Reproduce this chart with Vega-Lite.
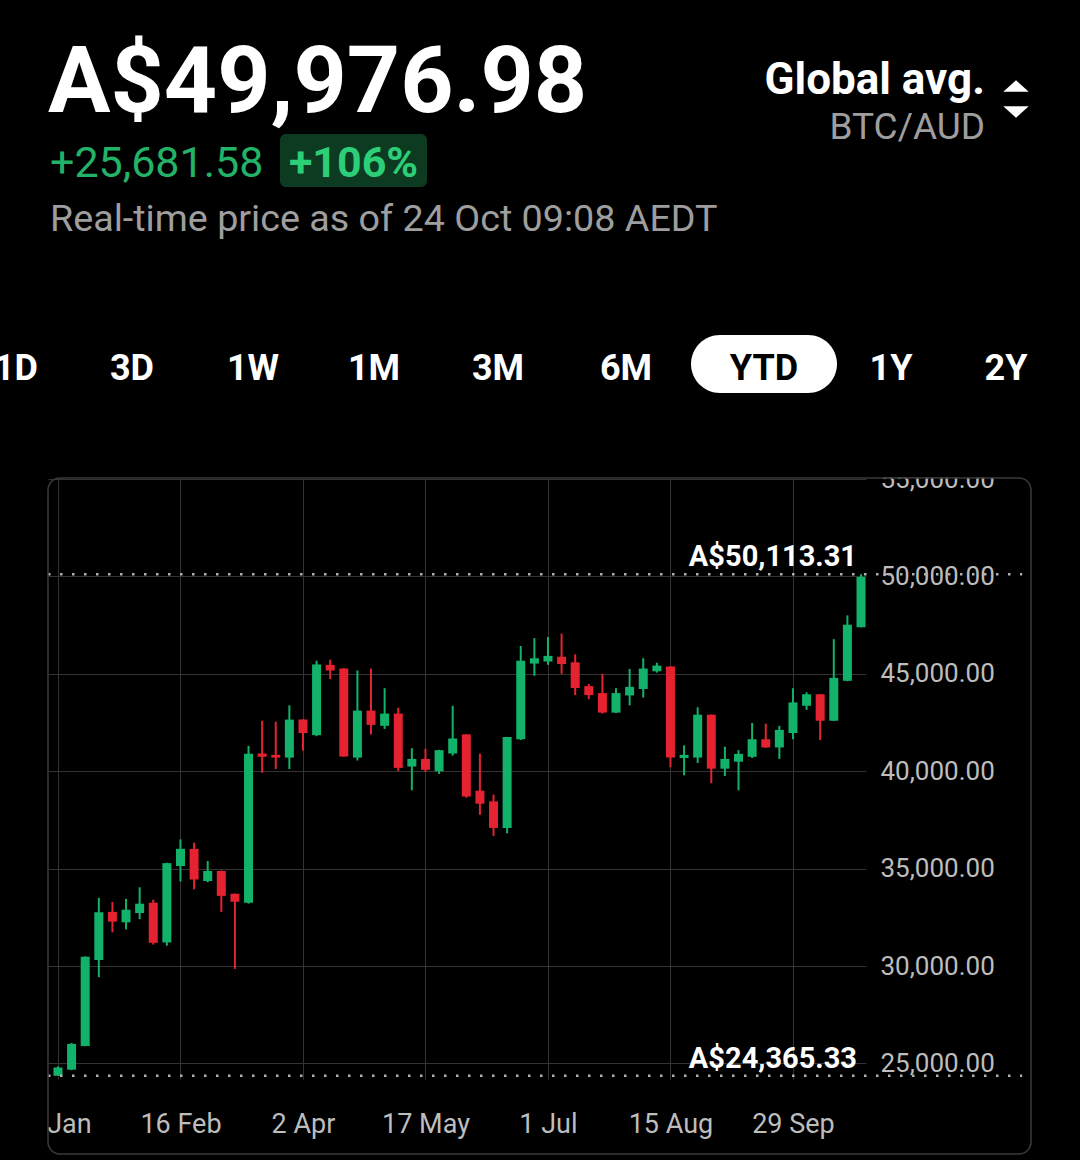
{
  "$schema": "https://vega.github.io/schema/vega-lite/v6.json",
  "width": 818,
  "height": 600,
  "autosize": {"type": "none"},
  "padding": {"left": 48, "top": 479, "right": 214, "bottom": 81},
  "background": "#000000",
  "config": {"view": {"stroke": null}, "font": "Roboto"},
  "datasets": {
    "candles": [
      {"date": "2023-01-02", "open": 24370, "high": 24850, "low": 24365.33, "close": 24790},
      {"date": "2023-01-07", "open": 24680, "high": 26050, "low": 24650, "close": 26000},
      {"date": "2023-01-12", "open": 25900, "high": 30500, "low": 25880, "close": 30470},
      {"date": "2023-01-17", "open": 30310, "high": 33500, "low": 29430, "close": 32760},
      {"date": "2023-01-22", "open": 32780, "high": 33290, "low": 31730, "close": 32280},
      {"date": "2023-01-27", "open": 32240, "high": 33450, "low": 31880, "close": 32890},
      {"date": "2023-02-01", "open": 32720, "high": 34040, "low": 32400, "close": 33200},
      {"date": "2023-02-06", "open": 33250, "high": 33410, "low": 31100, "close": 31190},
      {"date": "2023-02-11", "open": 31210, "high": 35300, "low": 31040, "close": 35280},
      {"date": "2023-02-16", "open": 35135, "high": 36500, "low": 34340, "close": 36015},
      {"date": "2023-02-21", "open": 36010, "high": 36330, "low": 33940, "close": 34440},
      {"date": "2023-02-26", "open": 34360, "high": 35390, "low": 34300, "close": 34880},
      {"date": "2023-03-03", "open": 34880, "high": 34900, "low": 32780, "close": 33600},
      {"date": "2023-03-08", "open": 33710, "high": 33720, "low": 29850, "close": 33300},
      {"date": "2023-03-13", "open": 33250, "high": 41300, "low": 33200, "close": 40900},
      {"date": "2023-03-18", "open": 40910, "high": 42590, "low": 39920, "close": 40740},
      {"date": "2023-03-23", "open": 40840, "high": 42540, "low": 40110, "close": 40700},
      {"date": "2023-03-28", "open": 40700, "high": 43380, "low": 40110, "close": 42650},
      {"date": "2023-04-02", "open": 42650, "high": 42660, "low": 41050, "close": 41960},
      {"date": "2023-04-07", "open": 41850, "high": 45670, "low": 41800, "close": 45480},
      {"date": "2023-04-12", "open": 45460, "high": 45730, "low": 44730, "close": 45170},
      {"date": "2023-04-17", "open": 45270, "high": 45290, "low": 40740, "close": 40760},
      {"date": "2023-04-22", "open": 40700, "high": 45170, "low": 40550, "close": 43110},
      {"date": "2023-04-27", "open": 43110, "high": 45270, "low": 41890, "close": 42380},
      {"date": "2023-05-02", "open": 42330, "high": 44260, "low": 42170, "close": 42960},
      {"date": "2023-05-07", "open": 42960, "high": 43260, "low": 40000, "close": 40170},
      {"date": "2023-05-12", "open": 40240, "high": 41180, "low": 39020, "close": 40630},
      {"date": "2023-05-17", "open": 40630, "high": 41160, "low": 39960, "close": 40070},
      {"date": "2023-05-22", "open": 40000, "high": 41100, "low": 39860, "close": 41080},
      {"date": "2023-05-27", "open": 40910, "high": 43360, "low": 40800, "close": 41680},
      {"date": "2023-06-01", "open": 41890, "high": 41900, "low": 38640, "close": 38700},
      {"date": "2023-06-06", "open": 39000, "high": 40900, "low": 37760, "close": 38330},
      {"date": "2023-06-11", "open": 38450, "high": 38800, "low": 36670, "close": 37090},
      {"date": "2023-06-16", "open": 37090, "high": 41760, "low": 36810, "close": 41750},
      {"date": "2023-06-21", "open": 41640, "high": 46430, "low": 41600, "close": 45670},
      {"date": "2023-06-26", "open": 45525, "high": 46830, "low": 44900, "close": 45800},
      {"date": "2023-07-01", "open": 45630, "high": 46890, "low": 45460, "close": 45920},
      {"date": "2023-07-06", "open": 45880, "high": 47060, "low": 45000, "close": 45500},
      {"date": "2023-07-11", "open": 45590, "high": 46000, "low": 43910, "close": 44270},
      {"date": "2023-07-16", "open": 44370, "high": 44480, "low": 43700, "close": 43910},
      {"date": "2023-07-21", "open": 44010, "high": 45000, "low": 42960, "close": 43010},
      {"date": "2023-07-26", "open": 43010, "high": 44260, "low": 42990, "close": 44010},
      {"date": "2023-07-31", "open": 43890, "high": 45250, "low": 43380, "close": 44330},
      {"date": "2023-08-05", "open": 44220, "high": 45800, "low": 43780, "close": 45270},
      {"date": "2023-08-10", "open": 45130, "high": 45570, "low": 45060, "close": 45420},
      {"date": "2023-08-15", "open": 45380, "high": 45390, "low": 40210, "close": 40700},
      {"date": "2023-08-20", "open": 40680, "high": 41330, "low": 39790, "close": 40840},
      {"date": "2023-08-25", "open": 40700, "high": 43280, "low": 40420, "close": 42900},
      {"date": "2023-08-30", "open": 42900, "high": 42910, "low": 39380, "close": 40130},
      {"date": "2023-09-04", "open": 40130, "high": 41260, "low": 39750, "close": 40630},
      {"date": "2023-09-09", "open": 40490, "high": 41080, "low": 39020, "close": 40890},
      {"date": "2023-09-14", "open": 40740, "high": 42480, "low": 40680, "close": 41640},
      {"date": "2023-09-19", "open": 41640, "high": 42440, "low": 41200, "close": 41220},
      {"date": "2023-09-24", "open": 41220, "high": 42330, "low": 40630, "close": 42120},
      {"date": "2023-09-29", "open": 41960, "high": 44260, "low": 41640, "close": 43530},
      {"date": "2023-10-04", "open": 43360, "high": 44050, "low": 43150, "close": 43950},
      {"date": "2023-10-09", "open": 43950, "high": 43960, "low": 41600, "close": 42590},
      {"date": "2023-10-14", "open": 42590, "high": 46780, "low": 42580, "close": 44790},
      {"date": "2023-10-19", "open": 44640, "high": 48000, "low": 44620, "close": 47520},
      {"date": "2023-10-24", "open": 47390, "high": 50113.31, "low": 47380, "close": 49977}
    ],
    "extremes": [
      {"label": "A$50,113.31", "price": 50113.31},
      {"label": "A$24,365.33", "price": 24365.33}
    ]
  },
  "layer": [
    {
      "data": {"name": "candles"},
      "mark": {"type": "rule", "strokeWidth": 2},
      "encoding": {
        "x": {
          "field": "date", "type": "temporal",
          "scale": {"type": "utc", "padding": 0, "domain": [
            {"year": 2022, "month": 12, "date": 29, "hours": 8, "utc": true},
            {"year": 2023, "month": 10, "date": 25, "hours": 20, "utc": true}
          ]},
          "axis": {
            "title": null,
            "values": [
              {"year": 2023, "month": 1, "date": 2, "utc": true},
              {"year": 2023, "month": 2, "date": 16, "utc": true},
              {"year": 2023, "month": 4, "date": 2, "utc": true},
              {"year": 2023, "month": 5, "date": 17, "utc": true},
              {"year": 2023, "month": 7, "date": 1, "utc": true},
              {"year": 2023, "month": 8, "date": 15, "utc": true},
              {"year": 2023, "month": 9, "date": 29, "utc": true}
            ],
            "format": "%-d %b",
            "grid": true, "gridColor": "#333333", "gridWidth": 1,
            "domain": false, "ticks": false, "tickSize": 0,
            "labelPadding": 32, "labelFontSize": 27, "labelColor": "#bdbdbd",
            "labelFont": "Roboto", "labelFlush": false, "labelOverlap": false
          }
        },
        "y": {
          "field": "low", "type": "quantitative",
          "scale": {"domain": [24200, 55000], "nice": false, "zero": false, "padding": 0},
          "axis": {
            "title": null, "orient": "right",
            "values": [25000, 30000, 35000, 40000, 45000, 50000, 55000],
            "format": ",.2f",
            "grid": true, "gridColor": "#333333", "gridWidth": 1,
            "domain": false, "ticks": false, "tickSize": 0,
            "labelPadding": 14, "labelFontSize": 26, "labelColor": "#bdbdbd",
            "labelFont": "Roboto", "labelOverlap": false, "labelFlush": false
          }
        },
        "y2": {"field": "high"},
        "color": {"condition": {"test": "datum.close >= datum.open", "value": "#12b26a"}, "value": "#e5222f"}
      }
    },
    {
      "data": {"name": "candles"},
      "mark": {"type": "bar", "size": 9},
      "encoding": {
        "x": {"field": "date", "type": "temporal"},
        "y": {"field": "open", "type": "quantitative"},
        "y2": {"field": "close"},
        "color": {"condition": {"test": "datum.close >= datum.open", "value": "#12b26a"}, "value": "#e5222f"}
      }
    },
    {
      "data": {"name": "extremes"},
      "mark": {"type": "rule", "color": "#b0b0b0", "strokeWidth": 2.5, "strokeDash": [2.5, 9.5]},
      "encoding": {
        "x": {"datum": {"year": 2022, "month": 12, "date": 29, "hours": 8, "utc": true}, "type": "temporal"},
        "x2": {"datum": {"year": 2023, "month": 12, "date": 22, "hours": 5, "utc": true}},
        "y": {"field": "price", "type": "quantitative"}
      }
    },
    {
      "data": {"name": "extremes"},
      "mark": {"type": "text", "align": "right", "baseline": "alphabetic", "dx": -4, "dy": -8, "font": "Roboto", "fontWeight": "bold", "fontSize": 29, "color": "#ffffff"},
      "encoding": {
        "x": {"datum": {"year": 2023, "month": 10, "date": 24, "utc": true}, "type": "temporal"},
        "y": {"field": "price", "type": "quantitative"},
        "text": {"field": "label"}
      }
    },
    {
      "data": {"values": [{"part": "label top"}]},
      "mark": {"type": "rect", "x": 818, "x2": 982, "y": -45, "y2": -1.5, "color": "#000000"}
    },
    {
      "data": {"values": [{"part": "label left"}]},
      "mark": {"type": "rect", "x": -48, "x2": -1, "y": 612, "y2": 674, "color": "#000000"}
    },
    {
      "data": {"values": [{"part": "frame"}]},
      "mark": {"type": "rect", "x": 0, "x2": 983, "y": -1, "y2": 675, "fill": null, "fillOpacity": 0, "stroke": "#3a3a3a", "strokeWidth": 1.5, "cornerRadius": 12}
    },
    {
      "data": {"values": [{"text": "A$49,976.98"}]},
      "mark": {"type": "text", "x": 0, "y": -367, "align": "left", "baseline": "alphabetic", "font": "Roboto", "fontWeight": "bold", "fontSize": 93, "color": "#ffffff"},
      "encoding": {"text": {"field": "text"}}
    },
    {
      "data": {"values": [{"text": "+25,681.58"}]},
      "mark": {"type": "text", "x": 2, "y": -302, "align": "left", "baseline": "alphabetic", "font": "Roboto", "fontSize": 43, "color": "#23b368"},
      "encoding": {"text": {"field": "text"}}
    },
    {
      "data": {"values": [{"part": "badge"}]},
      "mark": {"type": "rect", "x": 232, "x2": 379, "y": -345, "y2": -292, "color": "#0c3b22", "cornerRadius": 6}
    },
    {
      "data": {"values": [{"text": "+106%"}]},
      "mark": {"type": "text", "x": 305.5, "y": -302, "align": "center", "baseline": "alphabetic", "font": "Roboto", "fontWeight": "bold", "fontSize": 43, "color": "#2ccf78"},
      "encoding": {"text": {"field": "text"}}
    },
    {
      "data": {"values": [{"text": "Real-time price as of 24 Oct 09:08 AEDT"}]},
      "mark": {"type": "text", "x": 2, "y": -248, "align": "left", "baseline": "alphabetic", "font": "Roboto", "fontSize": 37.7, "color": "#9e9e9e"},
      "encoding": {"text": {"field": "text"}}
    },
    {
      "data": {"values": [{"text": "Global avg."}]},
      "mark": {"type": "text", "x": 937, "y": -385, "align": "right", "baseline": "alphabetic", "font": "Roboto", "fontWeight": "bold", "fontSize": 44, "color": "#ffffff"},
      "encoding": {"text": {"field": "text"}}
    },
    {
      "data": {"values": [{"text": "BTC/AUD"}]},
      "mark": {"type": "text", "x": 937, "y": -340, "align": "right", "baseline": "alphabetic", "font": "Roboto", "fontSize": 37, "color": "#9e9e9e"},
      "encoding": {"text": {"field": "text"}}
    },
    {
      "data": {"values": [{"dir": "up"}]},
      "mark": {"type": "point", "x": 968, "y": -393, "shape": "M-1,0.45L0,-0.45L1,0.45Z", "size": 650, "filled": true, "opacity": 1, "color": "#ffffff"}
    },
    {
      "data": {"values": [{"dir": "down"}]},
      "mark": {"type": "point", "x": 968, "y": -367, "shape": "M-1,-0.45L0,0.45L1,-0.45Z", "size": 650, "filled": true, "opacity": 1, "color": "#ffffff"}
    },
    {
      "data": {"values": [{"part": "pill"}]},
      "mark": {"type": "rect", "x": 643, "x2": 789, "y": -144, "y2": -86, "color": "#ffffff", "cornerRadius": 29}
    },
    {"data": {"values": [{"text": "1D"}]}, "mark": {"type": "text", "x": -32, "y": -99, "align": "center", "baseline": "alphabetic", "font": "Roboto", "fontWeight": "bold", "fontSize": 36, "color": "#ffffff"}, "encoding": {"text": {"field": "text"}}},
    {"data": {"values": [{"text": "3D"}]}, "mark": {"type": "text", "x": 84, "y": -99, "align": "center", "baseline": "alphabetic", "font": "Roboto", "fontWeight": "bold", "fontSize": 36, "color": "#ffffff"}, "encoding": {"text": {"field": "text"}}},
    {"data": {"values": [{"text": "1W"}]}, "mark": {"type": "text", "x": 205, "y": -99, "align": "center", "baseline": "alphabetic", "font": "Roboto", "fontWeight": "bold", "fontSize": 36, "color": "#ffffff"}, "encoding": {"text": {"field": "text"}}},
    {"data": {"values": [{"text": "1M"}]}, "mark": {"type": "text", "x": 326, "y": -99, "align": "center", "baseline": "alphabetic", "font": "Roboto", "fontWeight": "bold", "fontSize": 36, "color": "#ffffff"}, "encoding": {"text": {"field": "text"}}},
    {"data": {"values": [{"text": "3M"}]}, "mark": {"type": "text", "x": 450, "y": -99, "align": "center", "baseline": "alphabetic", "font": "Roboto", "fontWeight": "bold", "fontSize": 36, "color": "#ffffff"}, "encoding": {"text": {"field": "text"}}},
    {"data": {"values": [{"text": "6M"}]}, "mark": {"type": "text", "x": 578, "y": -99, "align": "center", "baseline": "alphabetic", "font": "Roboto", "fontWeight": "bold", "fontSize": 36, "color": "#ffffff"}, "encoding": {"text": {"field": "text"}}},
    {"data": {"values": [{"text": "YTD"}]}, "mark": {"type": "text", "x": 716, "y": -99, "align": "center", "baseline": "alphabetic", "font": "Roboto", "fontWeight": "bold", "fontSize": 36, "color": "#000000"}, "encoding": {"text": {"field": "text"}}},
    {"data": {"values": [{"text": "1Y"}]}, "mark": {"type": "text", "x": 843, "y": -99, "align": "center", "baseline": "alphabetic", "font": "Roboto", "fontWeight": "bold", "fontSize": 36, "color": "#ffffff"}, "encoding": {"text": {"field": "text"}}},
    {"data": {"values": [{"text": "2Y"}]}, "mark": {"type": "text", "x": 958, "y": -99, "align": "center", "baseline": "alphabetic", "font": "Roboto", "fontWeight": "bold", "fontSize": 36, "color": "#ffffff"}, "encoding": {"text": {"field": "text"}}}
  ]
}
